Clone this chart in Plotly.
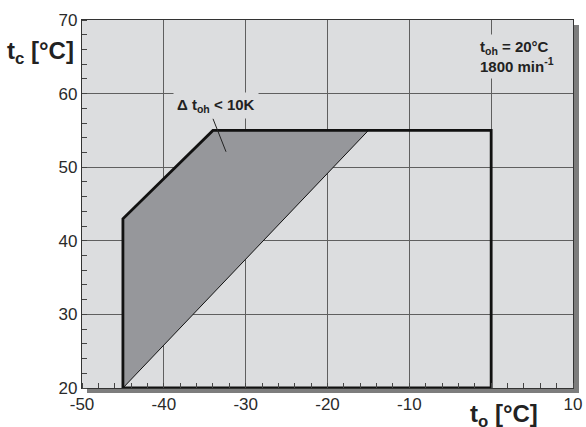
import plotly.graph_objects as go

# ---- data ----
envelope_x = [-45, -45, -34, 0, 0, -45]
envelope_y = [20, 43, 55, 55, 20, 20]
shade_x = [-45, -45, -34, -15, -45]
shade_y = [20, 43, 55, 55, 20]
leader_x = [-34.0, -32.4]
leader_y = [56.6, 52.1]
x_tickvals = [-50, -40, -30, -20, -10, 0, 10]
x_ticktext = ["-50", "-40", "-30", "-20", "-10", "", "10"]
y_tickvals = [20, 30, 40, 50, 60, 70]
y_ticktext = ["20", "30", "40", "50", "60", "70"]

W, H = 586, 427
ML, MR, MT, MB = 82, 13, 20, 39
PW, PH = W - ML - MR, H - MT - MB

BG = "#dcdddf"
FILL = "#96979b"
GRID = "#5f5f5f"
FONT = "Liberation Sans, Arial, sans-serif"

fig = go.Figure()
fig.add_trace(go.Scatter(x=shade_x, y=shade_y, mode="lines", fill="toself",
                         fillcolor=FILL, line=dict(color="#111", width=1),
                         hoverinfo="skip", showlegend=False))
fig.add_trace(go.Scatter(x=envelope_x, y=envelope_y, mode="lines",
                         line=dict(color="#111", width=2.8), cliponaxis=False,
                         hoverinfo="skip", showlegend=False))
fig.add_trace(go.Scatter(x=leader_x, y=leader_y, mode="lines",
                         line=dict(color="#222", width=1),
                         hoverinfo="skip", showlegend=False))

axis_common = dict(showline=True, mirror=True, linecolor="#333", linewidth=1.2,
                   showgrid=True, gridcolor=GRID, gridwidth=1.2, zeroline=False,
                   ticks="", tickfont=dict(family=FONT, size=17, color="#2a2a2a"),
                   tickmode="array", automargin=False)

fig.update_xaxes(range=[-50, 10], tickvals=x_tickvals, ticktext=x_ticktext,
                 minor=dict(tick0=-50, dtick=2, ticks="inside", ticklen=5,
                            tickcolor="#444", tickwidth=1, showgrid=False),
                 **axis_common)
fig.update_yaxes(range=[20, 70], tickvals=y_tickvals, ticktext=y_ticktext,
                 minor=dict(tick0=20, dtick=2, ticks="inside", ticklen=5,
                            tickcolor="#444", tickwidth=1, showgrid=False),
                 **axis_common)

shadow = "#7d7d7d"
shapes = [
    dict(type="rect", xref="paper", yref="paper", x0=1 + 1 / PW, x1=1 + 6 / PW,
         y0=-5 / PH, y1=1 - 5 / PH, fillcolor=shadow, line=dict(width=0)),
    dict(type="rect", xref="paper", yref="paper", x0=5 / PW, x1=1 + 6 / PW,
         y0=-5 / PH, y1=-1 / PH, fillcolor=shadow, line=dict(width=0)),
]

annotations = [
    dict(x=-33.6, y=58.4, xref="x", yref="y", showarrow=False,
         text="<b>Δ t<sub>oh</sub> < 10K</b>", bgcolor=BG, borderpad=3,
         font=dict(family=FONT, size=15, color="#222")),
    dict(x=(476 - ML) / PW, y=(H - MB - 57) / PH, xref="paper", yref="paper",
         xanchor="left", yanchor="middle", align="left", showarrow=False,
         text="<b>t<sub>oh</sub> = 20°C<br>1800 min<sup>-1</sup></b>",
         bgcolor=BG, borderpad=3,
         font=dict(family=FONT, size=15, color="#222")),
    dict(x=(76 - ML) / PW, y=(H - MB - 52) / PH, xref="paper", yref="paper",
         xanchor="right", yanchor="middle", showarrow=False,
         text="<b>t<sub>c</sub> [°C]</b>",
         font=dict(family=FONT, size=24, color="#222")),
    dict(x=(468 - ML) / PW, y=(H - MB - 415) / PH, xref="paper", yref="paper",
         xanchor="left", yanchor="middle", showarrow=False,
         text="<b>t<sub>o</sub> [°C]</b>",
         font=dict(family=FONT, size=24, color="#222")),
]

fig.update_layout(width=W, height=H, margin=dict(l=ML, r=MR, t=MT, b=MB),
                  plot_bgcolor=BG, paper_bgcolor="white", showlegend=False,
                  shapes=shapes, annotations=annotations)

fig.write_html("out.html", config={"displayModeBar": False},
               post_script="document.body.style.margin='0';"
                           "document.body.style.overflow='hidden';")
